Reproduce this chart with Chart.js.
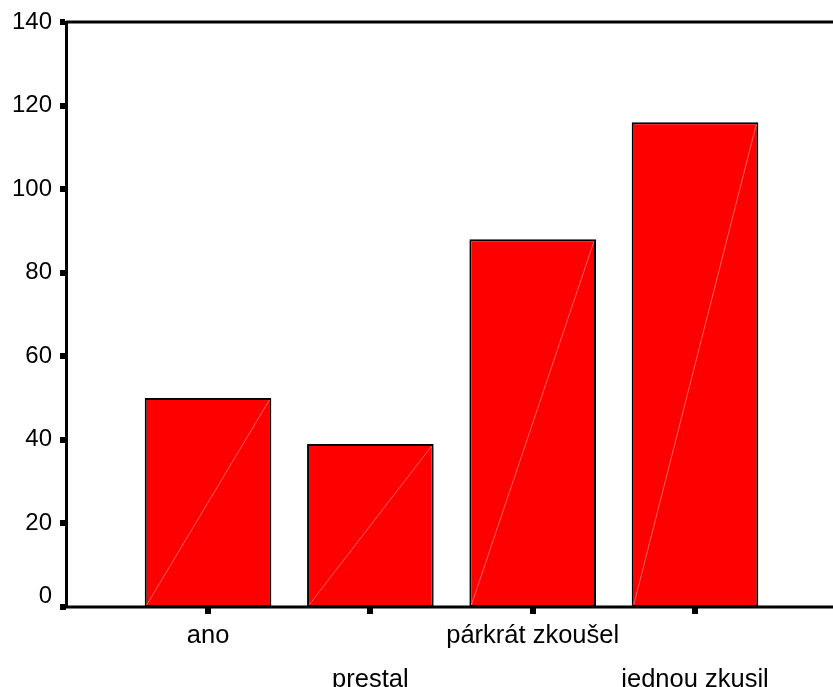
<!DOCTYPE html>
<html>
<head>
<meta charset="utf-8">
<script src="https://cdn.jsdelivr.net/npm/chart.js@4"></script>
<style>
  html, body { margin: 0; padding: 0; background: #ffffff; }
  #wrap { width: 833px; height: 687px; }
</style>
</head>
<body>
<div id="wrap"><canvas id="c" width="833" height="687"></canvas></div>
<script>
const categories = ['ano', 'prestal', 'párkrát zkoušel', 'jednou zkusil'];
const values = [50, 39, 88, 116];
const yTicks = [0, 20, 40, 60, 80, 100, 120, 140];

const points = values.map((v, i) => ({ x: i + 1, y: v }));

const framePlugin = {
  id: 'frame',
  afterDatasetsDraw(chart) {
    const ctx = chart.ctx;
    const meta = chart.getDatasetMeta(0);
    ctx.save();
    ctx.strokeStyle = 'rgba(255,190,190,0.5)';
    ctx.lineWidth = 1;
    meta.data.forEach(bar => {
      const p = bar.getProps(['x', 'y', 'base', 'width'], true);
      ctx.beginPath();
      ctx.moveTo(p.x - p.width / 2 + 2, p.base - 2);
      ctx.lineTo(p.x + p.width / 2 - 2, p.y + 2);
      ctx.stroke();
    });
    ctx.restore();
  },
  afterDraw(chart) {
    const a = chart.chartArea;
    const ctx = chart.ctx;
    const y0 = chart.scales.y.getPixelForValue(0);
    ctx.save();
    ctx.strokeStyle = '#000';
    ctx.lineWidth = 3;
    ctx.beginPath();
    ctx.moveTo(a.left, a.top);
    ctx.lineTo(chart.width, a.top);
    ctx.moveTo(a.left - 1.5, y0);
    ctx.lineTo(chart.width, y0);
    ctx.stroke();
    // tick square for the zero value on the value axis
    ctx.fillStyle = '#000';
    ctx.fillRect(a.left - 6, y0 - 3, 6, 6);
    ctx.restore();
  }
};

new Chart(document.getElementById('c'), {
  type: 'bar',
  data: {
    datasets: [{
      data: points,
      backgroundColor: '#ff0000',
      borderColor: '#000000',
      borderWidth: 2,
      borderSkipped: false,
      categoryPercentage: 1,
      barPercentage: 0.78
    }]
  },
  options: {
    responsive: false,
    animation: false,
    devicePixelRatio: 1,
    layout: { padding: { top: 22, left: 0, right: 0, bottom: 0 } },
    plugins: { legend: { display: false }, tooltip: { enabled: false } },
    scales: {
      x: {
        type: 'linear',
        offset: false,
        min: 0.125,
        max: 4.85,
        afterBuildTicks(scale) {
          scale.ticks = categories.map((c, i) => ({ value: i + 1 }));
        },
        afterFit(scale) { scale.height = 80; },
        grid: {
          offset: false,
          drawOnChartArea: false,
          tickLength: 7,
          lineWidth: 6,
          tickColor: '#000'
        },
        border: { display: false },
        ticks: {
          autoSkip: false,
          maxRotation: 0,
          padding: 0,
          color: '#000',
          font: { family: 'Liberation Sans, Arial, sans-serif', size: 25.5, lineHeight: 1.72 },
          callback(value) {
            const i = Math.round(value) - 1;
            const name = categories[i];
            return i % 2 === 0 ? [name, ''] : ['', name];
          }
        }
      },
      y: {
        min: 0,
        max: 140,
        afterBuildTicks(scale) {
          scale.ticks = yTicks.map(v => ({ value: v }));
        },
        afterFit(scale) { scale.width = 66; },
        grid: {
          drawOnChartArea: false,
          tickLength: 6,
          lineWidth: (c) => (c.tick && c.tick.value === 0 ? 0 : 6),
          tickColor: '#000'
        },
        border: { display: true, color: '#000', width: 3 },
        ticks: {
          padding: 8,
          color: '#000',
          font: { family: 'Liberation Sans, Arial, sans-serif', size: 24, lineHeight: 0.92 },
          callback(value) {
            return value === 0 ? ['0', ''] : String(value);
          }
        }
      }
    }
  },
  plugins: [framePlugin]
});
</script>
</body>
</html>
